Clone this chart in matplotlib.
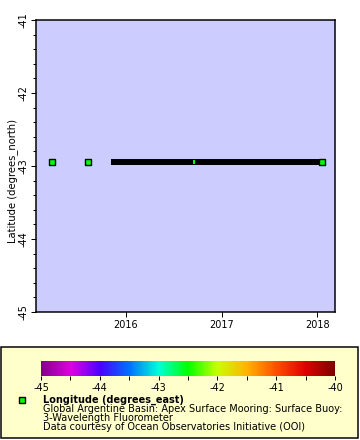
import matplotlib
matplotlib.use("Agg")
import matplotlib.pyplot as plt
import matplotlib.dates as mdates
import numpy as np
from matplotlib.colors import LinearSegmentedColormap, Normalize
from matplotlib.patches import Rectangle
import matplotlib.colorbar as mcolorbar
from datetime import datetime

# ---- data ----
point_dates = ["2015-03-24", "2015-08-11"]
segment_start = "2015-11-06"
segment_end = "2018-01-20"
gap_marker_dates = ["2016-09-16"]
end_marker_dates = ["2018-01-20"]
latitude = -42.94

x_limits = ["2015-01-23", "2018-03-10"]
y_limits = [-45, -41]
x_tick_years = [2016, 2017, 2018]
y_ticks = [-45, -44, -43, -42, -41]
cbar_ticks = [-45, -44, -43, -42, -41, -40]
cbar_range = [-45, -40]
rainbow_colors = ["#800090", "#e000e0", "#4a00ff", "#0070ff", "#00ffd8",
                  "#00ff00", "#c8ff00", "#ffb400", "#ff5000", "#e00000", "#800000"]

ylabel = "Latitude (degrees_north)"
legend_title = "Longitude (degrees_east)"
legend_lines = ["Global Argentine Basin: Apex Surface Mooring: Surface Buoy:",
                "3-Wavelength Fluorometer",
                "Data courtesy of Ocean Observatories Initiative (OOI)"]

W, H = 360, 440
DPI = 100
fig = plt.figure(figsize=(W / DPI, H / DPI), dpi=DPI)
plt.rcParams['font.family'] = ['DejaVu Sans']
FS = 7
px = 72.0 / DPI  # points per pixel


def d(s):
    return mdates.date2num(datetime.strptime(s, "%Y-%m-%d"))


def fax(l, t, r, b):
    return [l / W, 1 - b / H, (r - l) / W, (b - t) / H]


ax = fig.add_axes(fax(36, 20, 335, 312))
ax.set_facecolor("#ccccff")
ax.set_xlim(d(x_limits[0]), d(x_limits[1]))
ax.set_ylim(*y_limits)

# thick bar
ax.hlines(latitude, d(segment_start), d(segment_end), colors="black",
          linewidth=6 * px, capstyle="butt", zorder=3)
# isolated points
ax.plot([d(s) for s in point_dates], [latitude] * len(point_dates), ls="none",
        marker="s", markersize=6.5 * px, markerfacecolor="#00ff00",
        markeredgecolor="black", markeredgewidth=1.4 * px, zorder=4)
ax.plot([d(s) for s in end_marker_dates], [latitude] * len(end_marker_dates), ls="none",
        marker="s", markersize=6.5 * px, markerfacecolor="#00ff00",
        markeredgecolor="black", markeredgewidth=1.4 * px, zorder=4)
ax.plot([d(s) for s in gap_marker_dates], [latitude] * len(gap_marker_dates), ls="none",
        marker="|", markersize=4 * px, markeredgecolor="#00ff00",
        markeredgewidth=2 * px, zorder=5)

ax.set_xticks([mdates.date2num(datetime(y, 1, 1)) for y in x_tick_years])
ax.set_xticklabels([str(y) for y in x_tick_years], fontsize=FS)
ax.set_yticks(y_ticks)
ax.set_yticklabels([str(v) for v in y_ticks], fontsize=FS, rotation=90, va="center")
ax.set_yticks(np.arange(-45, -41 + 0.01, 0.2), minor=True)
ax.tick_params(axis="both", which="major", direction="out", length=5 * px,
               width=1 * px, pad=2)
ax.tick_params(axis="y", which="minor", direction="out", length=3 * px, width=1 * px)
ax.tick_params(axis="x", which="minor", length=0)
for sp in ax.spines.values():
    sp.set_linewidth(1.5 * px)
ax.set_ylabel(ylabel, fontsize=7.2)
ax.yaxis.set_label_coords(-0.06, 0.45)

# legend box
fig.patches.append(Rectangle((1 / W, 1 - 438 / H), 357 / W, 91 / H,
                             transform=fig.transFigure, facecolor="#ffffcc",
                             edgecolor="black", linewidth=1.5 * px, zorder=-1))

cmap = LinearSegmentedColormap.from_list("erddap_rainbow", rainbow_colors)
cax = fig.add_axes(fax(41, 361, 335, 376))
cb = mcolorbar.ColorbarBase(cax, cmap=cmap, norm=Normalize(*cbar_range),
                            orientation="horizontal")
cb.outline.set_visible(False)
cb.set_ticks(cbar_ticks)
cb.set_ticklabels([str(v) for v in cbar_ticks])
cax.set_xticks(np.arange(-45, -40 + 0.01, 0.5), minor=True)
cax.tick_params(which="major", direction="out", length=4 * px, width=1 * px,
                labelsize=FS, pad=2)
cax.tick_params(which="minor", direction="out", length=4 * px, width=1 * px)

# legend entry
fig.lines.append(plt.Line2D([22 / W], [1 - 400 / H], transform=fig.transFigure,
                            marker="s", markersize=6.5 * px, markerfacecolor="#00ff00",
                            markeredgecolor="black", markeredgewidth=1.4 * px, ls="none"))
fig.text(43 / W, 1 - 400 / H, legend_title, fontsize=FS, fontweight="bold",
         va="center", ha="left")
for i, line in enumerate(legend_lines):
    fig.text(43 / W, 1 - (409 + 9 * i) / H, line, fontsize=FS, va="center", ha="left")

fig.savefig("out.png", dpi=DPI)
